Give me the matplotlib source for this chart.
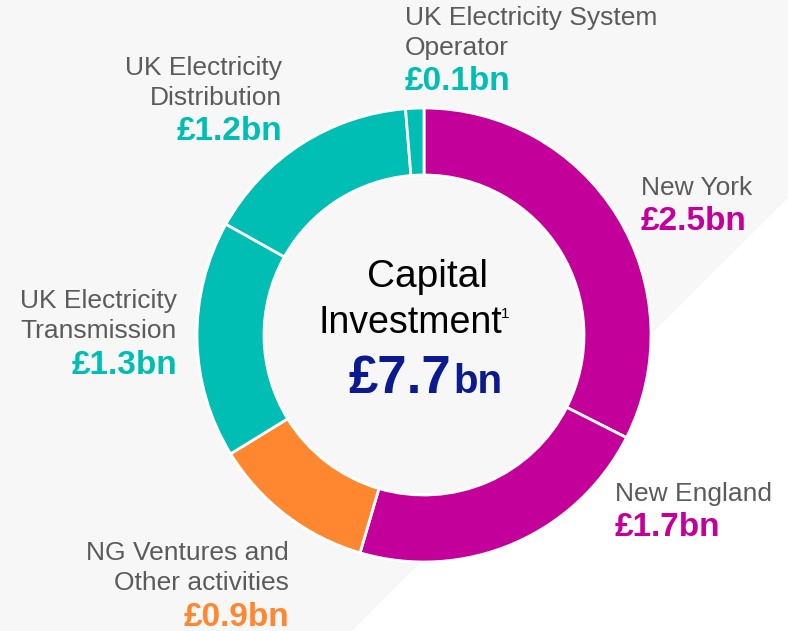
import matplotlib
matplotlib.use("Agg")
import matplotlib.pyplot as plt
from matplotlib.patches import Polygon

# Capital investment by segment (£bn), clockwise from 12 o'clock
segments = ["New York", "New England", "NG Ventures and\nOther activities",
            "UK Electricity\nTransmission", "UK Electricity\nDistribution",
            "UK Electricity System\nOperator"]
values = [2.5, 1.7, 0.9, 1.3, 1.2, 0.1]
value_labels = ["£2.5bn", "£1.7bn", "£0.9bn", "£1.3bn", "£1.2bn", "£0.1bn"]
total_label = "£7.7"

MAGENTA = "#C4009B"
TEAL = "#00BEB3"
ORANGE = "#FF872F"
NAVY = "#0B1A8E"
GREY = "#5B5B5B"
colors = [MAGENTA, MAGENTA, ORANGE, TEAL, TEAL, TEAL]

plt.rcParams["font.family"] = ["Liberation Sans", "DejaVu Sans"]

W, H = 788, 631
fig = plt.figure(figsize=(W / 100, H / 100), dpi=100)
fig.patch.set_facecolor("#F7F7F7")

ax = fig.add_axes([0, 0, 1, 1])
ax.set_facecolor("none")

# white diagonal band in lower right, behind the ring
ax.add_patch(Polygon([(W, H - 198), (W, 0), (352, 0)], closed=True,
                     facecolor="white", edgecolor="none", zorder=0))

cx, cy = 424, H - 335
wedges, _ = ax.pie(values, colors=colors, startangle=90, counterclock=False,
                   center=(cx, cy), radius=227,
                   wedgeprops=dict(width=67, edgecolor="white", linewidth=2))
for w in wedges:
    w.set_zorder(2)
ax.set_xlim(0, W)
ax.set_ylim(0, H)
ax.set_aspect("equal")
ax.axis("off")

def y(p):
    return H - p

# label placement: (x, first line y, ha)
label_pos = [
    (641, 188, "left"),
    (615, 494, "left"),
    (289, 553, "right"),
    (177, 301, "right"),
    (282, 68, "right"),
    (405, 18, "left"),
]
LH = 30
for name, val, col, (lx, ly, ha) in zip(segments, value_labels, colors, label_pos):
    lines = name.split("\n")
    for i, ln in enumerate(lines):
        ax.text(lx, y(ly + i * LH), ln, ha=ha, va="center", fontsize=19,
                color=GREY)
    ax.text(lx, y(ly + len(lines) * LH + 4), val, ha=ha, va="center",
            fontsize=24, fontweight="bold", color=col)

# centre text
ax.text(428, y(277), "Capital", ha="center", va="center", fontsize=28,
        color="black")
ax.text(410, y(323), "Investment", ha="center", va="center", fontsize=27,
        color="black")
ax.text(501, y(314), "1", ha="left", va="center", fontsize=11, color="black")
ax.text(451, y(393), total_label, ha="right", va="baseline", fontsize=38,
        fontweight="bold", color=NAVY)
ax.text(453, y(393), "bn", ha="left", va="baseline", fontsize=29,
        fontweight="bold", color=NAVY)

fig.savefig("out.png", dpi=100, facecolor=fig.get_facecolor())
